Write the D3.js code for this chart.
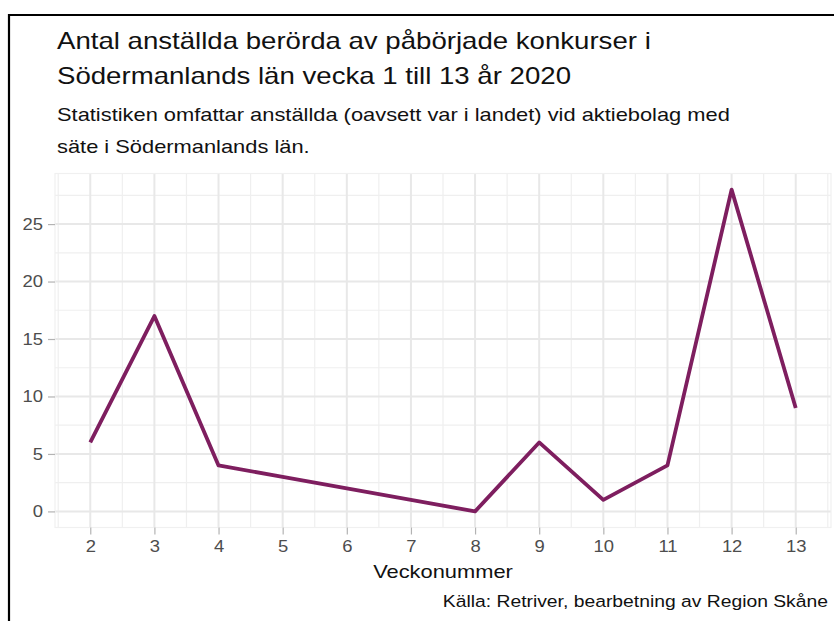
<!DOCTYPE html>
<html><head><meta charset="utf-8">
<script src="https://cdn.jsdelivr.net/npm/d3@7"></script>
<style>body{margin:0;background:#fff;} svg{display:block;font-family:"Liberation Sans",Arial,sans-serif;}</style>
</head><body>
<script>
const weeks = [2,3,4,5,6,7,8,9,10,11,12,13];
const employees = [6,17,4,3,2,1,0,6,1,4,28,9];
const yTicks = [0,5,10,15,20,25];
const titleLines = ["Antal anställda berörda av påbörjade konkurser i","Södermanlands län vecka 1 till 13 år 2020"];
const subtitleLines = ["Statistiken omfattar anställda (oavsett var i landet) vid aktiebolag med","säte i Södermanlands län."];
const xTitle = "Veckonummer";
const caption = "Källa: Retriver, bearbetning av Region Skåne";

const W=834,H=621, SX=1.15;
const svg=d3.select("body").append("svg").attr("width",W).attr("height",H);
svg.append("rect").attr("width",W).attr("height",H).attr("fill","#fff");
svg.append("path").attr("d","M9,621 L9,15 L834,15").attr("fill","none").attr("stroke","#000").attr("stroke-width",2.2);

const L=55,R=831,T=173.5,B=527.5;
const x=d3.scaleLinear().domain([1.45,13.55]).range([L,R]);
const y=d3.scaleLinear().domain([-1.4,29.4]).range([B,T]);

function stretch(sel){ sel.each(function(){ const n=this.getComputedTextLength(); d3.select(this).attr("textLength",n*SX).attr("lengthAdjust","spacingAndGlyphs"); }); }

const g=svg.append("g");
const xMinor=d3.range(1.5,14,1), yMinor=[2.5,7.5,12.5,17.5,22.5,27.5];
g.selectAll(".xm").data(xMinor).enter().append("line").attr("x1",d=>x(d)).attr("x2",d=>x(d)).attr("y1",T).attr("y2",B).attr("stroke","#efefef").attr("stroke-width",1.2);
g.selectAll(".ym").data(yMinor).enter().append("line").attr("y1",d=>y(d)).attr("y2",d=>y(d)).attr("x1",L).attr("x2",R).attr("stroke","#efefef").attr("stroke-width",1.2);
g.selectAll(".xM").data(weeks).enter().append("line").attr("x1",d=>x(d)).attr("x2",d=>x(d)).attr("y1",T).attr("y2",B).attr("stroke","#e8e8e8").attr("stroke-width",2);
g.selectAll(".yM").data(yTicks).enter().append("line").attr("y1",d=>y(d)).attr("y2",d=>y(d)).attr("x1",L).attr("x2",R).attr("stroke","#e8e8e8").attr("stroke-width",2);
g.append("rect").attr("x",L).attr("y",T).attr("width",R-L).attr("height",B-T).attr("fill","none").attr("stroke","#f0f0f0").attr("stroke-width",1.2);

const xAxis=svg.append("g").attr("transform",`translate(0,${B})`).call(d3.axisBottom(x).tickValues(weeks).tickSize(7).tickPadding(6).tickFormat(d3.format("d")));
const yAxis=svg.append("g").attr("transform",`translate(${L},0)`).call(d3.axisLeft(y).tickValues(yTicks).tickSize(7).tickPadding(5));
[xAxis,yAxis].forEach(a=>{a.select(".domain").remove();a.selectAll(".tick line").attr("stroke","#b3b3b3").attr("stroke-width",1.2);a.selectAll("text").attr("fill","#4d4d4d").attr("font-size","16px").attr("font-family","Liberation Sans, Arial, sans-serif").call(stretch);});

const line=d3.line().x((d,i)=>x(weeks[i])).y(d=>y(d));
svg.append("path").datum(employees).attr("d",line).attr("fill","none").attr("stroke","#7e1e5f").attr("stroke-width",3.8).attr("stroke-linejoin","round");

titleLines.forEach((t,i)=>svg.append("text").attr("x",57).attr("y",48.5+i*35.5).attr("font-size","24px").attr("fill","#111").text(t).call(stretch));
subtitleLines.forEach((t,i)=>svg.append("text").attr("x",57).attr("y",121+i*32).attr("font-size","19px").attr("fill","#111").text(t).call(stretch));
svg.append("text").attr("x",443).attr("y",578).attr("text-anchor","middle").attr("font-size","19px").attr("fill","#111").text(xTitle).call(stretch);
svg.append("text").attr("x",828).attr("y",607).attr("text-anchor","end").attr("font-size","16.8px").attr("fill","#111").text(caption).call(stretch);
</script>
</body></html>
